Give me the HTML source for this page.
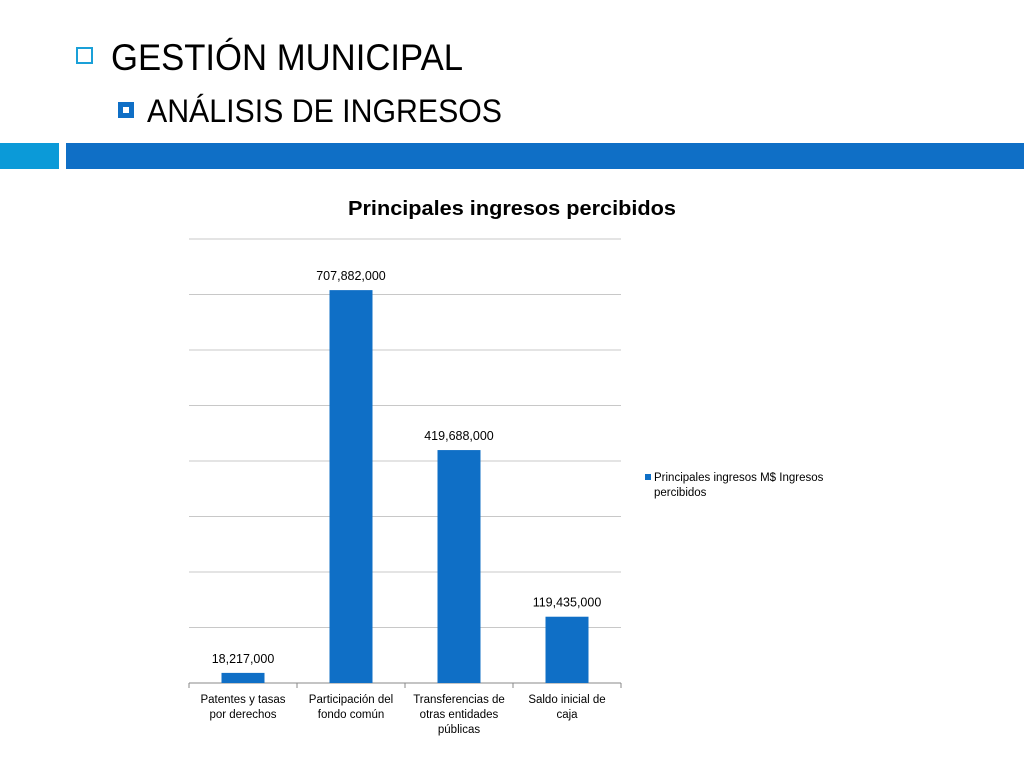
<!DOCTYPE html>
<html><head><meta charset="utf-8"><style>
body{margin:0;background:#fff;font-family:"Liberation Sans",sans-serif}
svg{display:block}
</style></head><body>
<svg width="1024" height="768">
<rect x="77" y="48" width="15" height="15" fill="none" stroke="#1aa0d8" stroke-width="2"/>
<text x="111" y="70" font-size="37" textLength="352" lengthAdjust="spacingAndGlyphs" fill="#000">GESTIÓN MUNICIPAL</text>
<rect x="118" y="102" width="16" height="16" fill="#0f6fc6"/>
<rect x="123" y="107" width="6" height="6" fill="#fff"/>
<text x="147" y="122" font-size="32" textLength="355" lengthAdjust="spacingAndGlyphs" fill="#000">ANÁLISIS DE INGRESOS</text>
<rect x="0" y="143" width="59" height="26" fill="#0b9ad8"/>
<rect x="66" y="143" width="958" height="26" fill="#0f6fc6"/>
<text x="348" y="215" font-size="20" font-weight="bold" textLength="328" lengthAdjust="spacingAndGlyphs">Principales ingresos percibidos</text>
<g id="chart"></g>
<rect x="645" y="474" width="6" height="6" fill="#0f6fc6"/>
<text x="654" y="481" font-size="11.5">Principales ingresos M$ Ingresos<tspan x="654" dy="15">percibidos</tspan></text>
</svg>
<script>
const categories=[["Patentes y tasas","por derechos"],["Participación del","fondo común"],["Transferencias de","otras entidades","públicas"],["Saldo inicial de","caja"]];
const values=[18217000,707882000,419688000,119435000];
const valueLabels=["18,217,000","707,882,000","419,688,000","119,435,000"];
const yTicks=[0,100e6,200e6,300e6,400e6,500e6,600e6,700e6,800e6];
const NS="http://www.w3.org/2000/svg";
const g=document.getElementById('chart');
const x0=189,x1=621,yb=683,yt=239,maxV=800e6;
const y=v=>yb-(v/maxV)*(yb-yt);
const bw=(x1-x0)/categories.length;
function mk(t,a){const e=document.createElementNS(NS,t);for(const k in a)e.setAttribute(k,a[k]);g.appendChild(e);return e;}
yTicks.forEach(t=>{
 const l=mk('line',{x1:x0,x2:x1,y1:y(t),y2:y(t),stroke:t===0?'#888':'#c8c8c8','stroke-width':1});
 
 
});
for(let i=0;i<=categories.length;i++){mk('line',{x1:x0+i*bw,x2:x0+i*bw,y1:yb,y2:yb+5,stroke:'#888'});}
values.forEach((v,i)=>{
 const cx=x0+bw*(i+0.5);
 const r=mk('rect',{x:cx-21.5,y:y(v),width:43,height:yb-y(v),fill:'#0f6fc6'});
 
 
 const t=mk('text',{x:cx,y:y(v)-10,'font-size':12.5,'text-anchor':'middle'});
 t.textContent=valueLabels[i];
 
 
 categories[i].forEach((s,j)=>{
  const c=mk('text',{x:cx,y:yb+20+j*15,'font-size':11.5,'text-anchor':'middle'});
  c.textContent=s;
  
  
 });
});
</script>
</body></html>
